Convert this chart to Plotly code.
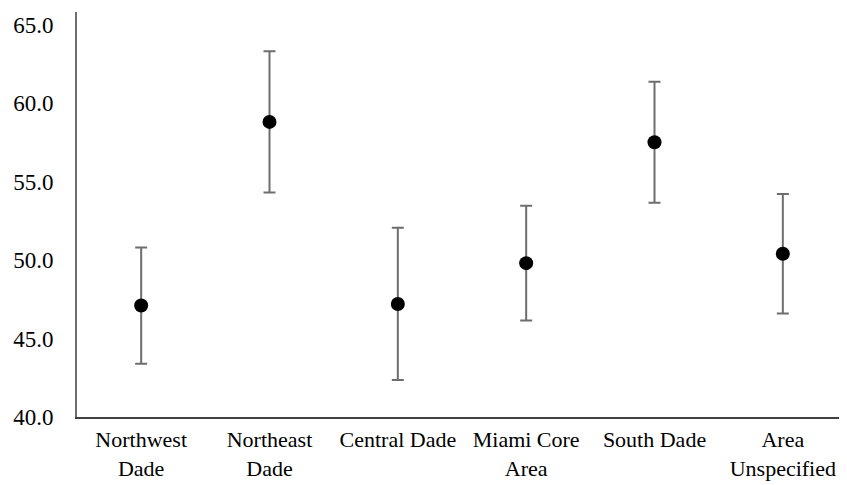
import plotly.graph_objects as go

categories = ["Northwest<br>Dade", "Northeast<br>Dade", "Central Dade", "Miami Core<br>Area", "South Dade", "Area<br>Unspecified"]
means = [47.1, 58.8, 47.2, 49.8, 57.5, 50.4]
errors = [3.7, 4.5, 4.85, 3.65, 3.85, 3.8]
y_ticks = [40, 45, 50, 55, 60, 65]

fig = go.Figure()
fig.add_trace(go.Scatter(
    x=categories, y=means, mode="markers",
    marker=dict(color="black", size=14),
    error_y=dict(type="data", array=errors, visible=True, color="#6e6e6e", thickness=2, width=6),
    showlegend=False,
))

fig.update_layout(
    width=839, height=477,
    margin=dict(l=69, r=0, t=4, b=68),
    paper_bgcolor="white", plot_bgcolor="white",
    font=dict(family="Liberation Serif, Times New Roman, serif", color="black"),
    xaxis=dict(showline=True, linecolor="#404040", linewidth=2, showgrid=False, ticks="",
               tickfont=dict(size=22), zeroline=False, range=[-0.5, 5.5],
               automargin=False, ticklabelstandoff=2),
    yaxis=dict(showline=True, linecolor="#6e6e6e", linewidth=2, showgrid=False, ticks="",
               range=[40, 65.8], tickvals=y_ticks, ticktext=[f"{v:.1f}" for v in y_ticks],
               tickfont=dict(size=23), zeroline=False, automargin=False, ticklabelstandoff=17),
)

fig.write_html("out.html")
